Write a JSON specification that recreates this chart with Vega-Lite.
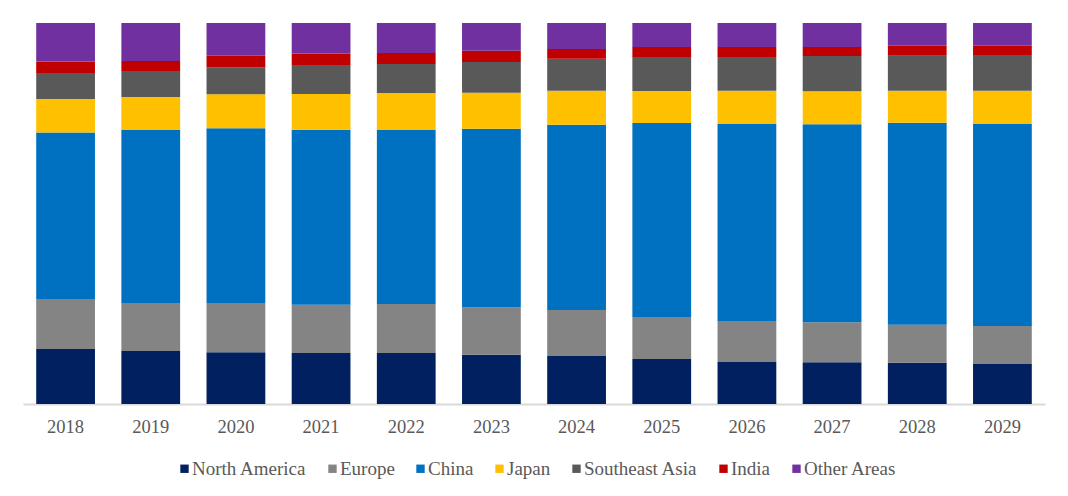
{
  "$schema": "https://vega.github.io/schema/vega-lite/v6.json",
  "width": 1022,
  "height": 381,
  "autosize": {"type": "none"},
  "padding": {"left": 23, "top": 23, "right": 23, "bottom": 92},
  "background": "white",
  "config": {"view": {"stroke": null}, "font": "Liberation Serif"},
  "datasets": {
    "shares": [
      {"year": "2018", "region": "North America", "share": 14.4},
      {"year": "2018", "region": "Europe", "share": 13.1},
      {"year": "2018", "region": "China", "share": 43.7},
      {"year": "2018", "region": "Japan", "share": 8.8},
      {"year": "2018", "region": "Southeast Asia", "share": 6.8},
      {"year": "2018", "region": "India", "share": 3.0},
      {"year": "2018", "region": "Other Areas", "share": 10.1},
      {"year": "2019", "region": "North America", "share": 13.9},
      {"year": "2019", "region": "Europe", "share": 12.6},
      {"year": "2019", "region": "China", "share": 45.4},
      {"year": "2019", "region": "Japan", "share": 8.7},
      {"year": "2019", "region": "Southeast Asia", "share": 6.8},
      {"year": "2019", "region": "India", "share": 2.6},
      {"year": "2019", "region": "Other Areas", "share": 10.0},
      {"year": "2020", "region": "North America", "share": 13.6},
      {"year": "2020", "region": "Europe", "share": 12.9},
      {"year": "2020", "region": "China", "share": 45.9},
      {"year": "2020", "region": "Japan", "share": 8.9},
      {"year": "2020", "region": "Southeast Asia", "share": 7.1},
      {"year": "2020", "region": "India", "share": 3.0},
      {"year": "2020", "region": "Other Areas", "share": 8.6},
      {"year": "2021", "region": "North America", "share": 13.4},
      {"year": "2021", "region": "Europe", "share": 12.6},
      {"year": "2021", "region": "China", "share": 45.9},
      {"year": "2021", "region": "Japan", "share": 9.4},
      {"year": "2021", "region": "Southeast Asia", "share": 7.6},
      {"year": "2021", "region": "India", "share": 3.0},
      {"year": "2021", "region": "Other Areas", "share": 8.0},
      {"year": "2022", "region": "North America", "share": 13.4},
      {"year": "2022", "region": "Europe", "share": 12.9},
      {"year": "2022", "region": "China", "share": 45.7},
      {"year": "2022", "region": "Japan", "share": 9.7},
      {"year": "2022", "region": "Southeast Asia", "share": 7.6},
      {"year": "2022", "region": "India", "share": 2.9},
      {"year": "2022", "region": "Other Areas", "share": 7.9},
      {"year": "2023", "region": "North America", "share": 12.9},
      {"year": "2023", "region": "Europe", "share": 12.4},
      {"year": "2023", "region": "China", "share": 46.9},
      {"year": "2023", "region": "Japan", "share": 9.4},
      {"year": "2023", "region": "Southeast Asia", "share": 8.1},
      {"year": "2023", "region": "India", "share": 2.9},
      {"year": "2023", "region": "Other Areas", "share": 7.3},
      {"year": "2024", "region": "North America", "share": 12.6},
      {"year": "2024", "region": "Europe", "share": 12.1},
      {"year": "2024", "region": "China", "share": 48.6},
      {"year": "2024", "region": "Japan", "share": 8.9},
      {"year": "2024", "region": "Southeast Asia", "share": 8.4},
      {"year": "2024", "region": "India", "share": 2.6},
      {"year": "2024", "region": "Other Areas", "share": 6.8},
      {"year": "2025", "region": "North America", "share": 11.8},
      {"year": "2025", "region": "Europe", "share": 11.0},
      {"year": "2025", "region": "China", "share": 50.9},
      {"year": "2025", "region": "Japan", "share": 8.4},
      {"year": "2025", "region": "Southeast Asia", "share": 8.9},
      {"year": "2025", "region": "India", "share": 2.6},
      {"year": "2025", "region": "Other Areas", "share": 6.3},
      {"year": "2026", "region": "North America", "share": 11.0},
      {"year": "2026", "region": "Europe", "share": 10.8},
      {"year": "2026", "region": "China", "share": 51.7},
      {"year": "2026", "region": "Japan", "share": 8.7},
      {"year": "2026", "region": "Southeast Asia", "share": 8.9},
      {"year": "2026", "region": "India", "share": 2.6},
      {"year": "2026", "region": "Other Areas", "share": 6.3},
      {"year": "2027", "region": "North America", "share": 11.0},
      {"year": "2027", "region": "Europe", "share": 10.5},
      {"year": "2027", "region": "China", "share": 52.0},
      {"year": "2027", "region": "Japan", "share": 8.7},
      {"year": "2027", "region": "Southeast Asia", "share": 9.2},
      {"year": "2027", "region": "India", "share": 2.4},
      {"year": "2027", "region": "Other Areas", "share": 6.3},
      {"year": "2028", "region": "North America", "share": 10.8},
      {"year": "2028", "region": "Europe", "share": 10.0},
      {"year": "2028", "region": "China", "share": 53.0},
      {"year": "2028", "region": "Japan", "share": 8.4},
      {"year": "2028", "region": "Southeast Asia", "share": 9.2},
      {"year": "2028", "region": "India", "share": 2.6},
      {"year": "2028", "region": "Other Areas", "share": 6.0},
      {"year": "2029", "region": "North America", "share": 10.5},
      {"year": "2029", "region": "Europe", "share": 10.0},
      {"year": "2029", "region": "China", "share": 53.0},
      {"year": "2029", "region": "Japan", "share": 8.7},
      {"year": "2029", "region": "Southeast Asia", "share": 9.4},
      {"year": "2029", "region": "India", "share": 2.4},
      {"year": "2029", "region": "Other Areas", "share": 6.0}
    ]
  },
  "data": {"name": "shares"},
  "transform": [
    {"calculate": "indexof(['North America', 'Europe', 'China', 'Japan', 'Southeast Asia', 'India', 'Other Areas'], datum.region)", "as": "stackRank"}
  ],
  "mark": {"type": "bar"},
  "encoding": {
    "x": {
      "field": "year",
      "type": "ordinal",
      "scale": {"paddingInner": 0.31, "paddingOuter": 0.155},
      "axis": {
        "title": null,
        "labelAngle": 0,
        "labelFont": "Liberation Serif",
        "labelFontSize": 18.5,
        "labelColor": "#595959",
        "labelPadding": 13,
        "ticks": false,
        "domainColor": "#d9d9d9",
        "domainWidth": 2
      }
    },
    "y": {
      "field": "share",
      "type": "quantitative",
      "stack": "normalize",
      "axis": null
    },
    "color": {
      "field": "region",
      "type": "nominal",
      "sort": ["North America", "Europe", "China", "Japan", "Southeast Asia", "India", "Other Areas"],
      "scale": {
        "domain": ["North America", "Europe", "China", "Japan", "Southeast Asia", "India", "Other Areas"],
        "range": ["#002060", "#848484", "#0070c0", "#ffc000", "#595959", "#c00000", "#7030a0"]
      },
      "legend": {
        "title": null,
        "orient": "none",
        "direction": "horizontal",
        "legendX": 152,
        "legendY": 436,
        "symbolType": "square",
        "symbolSize": 70,
        "symbolStrokeWidth": 0,
        "labelFont": "Liberation Serif",
        "labelFontSize": 19,
        "labelColor": "#595959",
        "labelOffset": -2,
        "columnPadding": 16
      }
    },
    "order": {"field": "stackRank", "type": "quantitative", "sort": "ascending"}
  }
}
